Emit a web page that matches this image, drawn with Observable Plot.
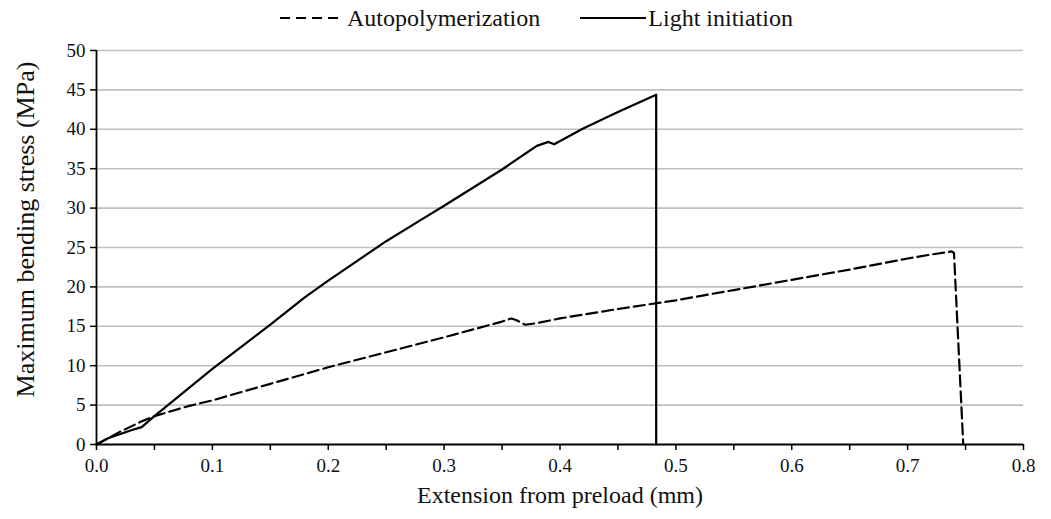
<!DOCTYPE html>
<html>
<head>
<meta charset="utf-8">
<script src="https://cdn.jsdelivr.net/npm/d3@7"></script>
<script src="https://cdn.jsdelivr.net/npm/@observablehq/plot@0.6"></script>
<style>
  body { margin: 0; background: #fff; font-family: "Liberation Serif", "Times New Roman", serif; }
  #legend { height: 36px; display: flex; justify-content: flex-start; align-items: center; font-size: 24px; color: #111; padding-left: 280px; box-sizing: border-box; }
  .item { display: flex; align-items: center; }
  #legend .item + .item { margin-left: 40px; }
</style>
</head>
<body>
<div id="legend"></div>
<div id="chart"></div>
<script>
const seriesNames = ["Autopolymerization", "Light initiation"];
const xLabel = "Extension from preload (mm)";
const yLabel = "Maximum bending stress (MPa)";

const autoX = [0, 0.01, 0.02, 0.03, 0.04, 0.05, 0.08, 0.1, 0.15, 0.2, 0.25, 0.3, 0.35, 0.358, 0.362, 0.37, 0.38, 0.4, 0.45, 0.5, 0.55, 0.6, 0.65, 0.7, 0.72, 0.738, 0.74, 0.748];
const autoY = [0, 0.8, 1.6, 2.3, 3.0, 3.6, 4.9, 5.6, 7.7, 9.8, 11.7, 13.6, 15.6, 16.0, 15.8, 15.2, 15.4, 16.0, 17.2, 18.3, 19.6, 20.9, 22.2, 23.6, 24.1, 24.5, 24.3, 0];

const lightX = [0, 0.005, 0.01, 0.02, 0.03, 0.039, 0.05, 0.1, 0.15, 0.18, 0.2, 0.25, 0.28, 0.3, 0.35, 0.38, 0.39, 0.395, 0.42, 0.45, 0.483, 0.483];
const lightY = [0, 0.4, 0.8, 1.3, 1.8, 2.2, 3.6, 9.6, 15.2, 18.7, 20.8, 25.8, 28.5, 30.3, 34.9, 37.9, 38.4, 38.1, 40.1, 42.2, 44.4, 0];

const xTicks = d3.range(0, 0.8001, 0.05).map(v => +v.toFixed(2));
const yTicks = d3.range(0, 51, 5);
const gridY = yTicks.filter(v => v > 0);

const autoData = autoX.map((x, i) => ({x, y: autoY[i]}));
const lightData = lightX.map((x, i) => ({x, y: lightY[i]}));

// legend
const legend = document.getElementById("legend");
[{dash: "10,6", w: 62, gap: 5}, {dash: null, w: 66, gap: 2}].forEach((d, i) => {
  const item = document.createElement("div");
  item.className = "item";
  item.innerHTML = `<svg width="${d.w}" height="10" style="margin-right:${d.gap}px"><line x1="0" y1="5" x2="${d.w}" y2="5" stroke="#000" stroke-width="2.2" ${d.dash ? `stroke-dasharray="${d.dash}"` : ""}/></svg><span>${seriesNames[i]}</span>`;
  legend.appendChild(item);
});

const serif = '"Liberation Serif", "Times New Roman", serif';
const chart = Plot.plot({
  width: 1051,
  height: 483,
  marginLeft: 96,
  marginRight: 28,
  marginTop: 14,
  marginBottom: 75,
  style: { fontFamily: serif, fontSize: "19px", color: "#111", background: "#fff" },
  x: { domain: [0, 0.8] },
  y: { domain: [0, 50] },
  marks: [
    Plot.ruleY(gridY, { stroke: "#bfbfbf", strokeWidth: 1.6 }),
    Plot.axisX({ ticks: xTicks, tickSize: 6, tickPadding: 8, stroke: "#000", strokeWidth: 1.5,
      tickFormat: d => (Math.round(d * 100) % 10 === 0 ? d.toFixed(1) : ""),
      label: null, fontSize: 19 }),
    Plot.axisY({ ticks: yTicks, tickSize: 6, tickPadding: 5, stroke: "#000", strokeWidth: 1.5,
      label: null, fontSize: 19 }),
    Plot.line(autoData, { x: "x", y: "y", stroke: "#000", strokeWidth: 2.2, strokeDasharray: "11,5", curve: "linear" }),
    Plot.line(lightData, { x: "x", y: "y", stroke: "#000", strokeWidth: 2.2, curve: "linear" }),
    Plot.ruleY([0], { stroke: "#000", strokeWidth: 1.8 }),
    Plot.ruleX([0], { stroke: "#000", strokeWidth: 1.8 }),
    Plot.text([xLabel], { text: d => d, frameAnchor: "bottom", dy: 58, fontSize: 24, fill: "#111" }),
    Plot.text([yLabel], { text: d => d, frameAnchor: "left", textAnchor: "middle", dx: -71, dy: -18, rotate: -90, fontSize: 26, fill: "#111" })
  ]
});
document.getElementById("chart").appendChild(chart);
</script>
</body>
</html>
